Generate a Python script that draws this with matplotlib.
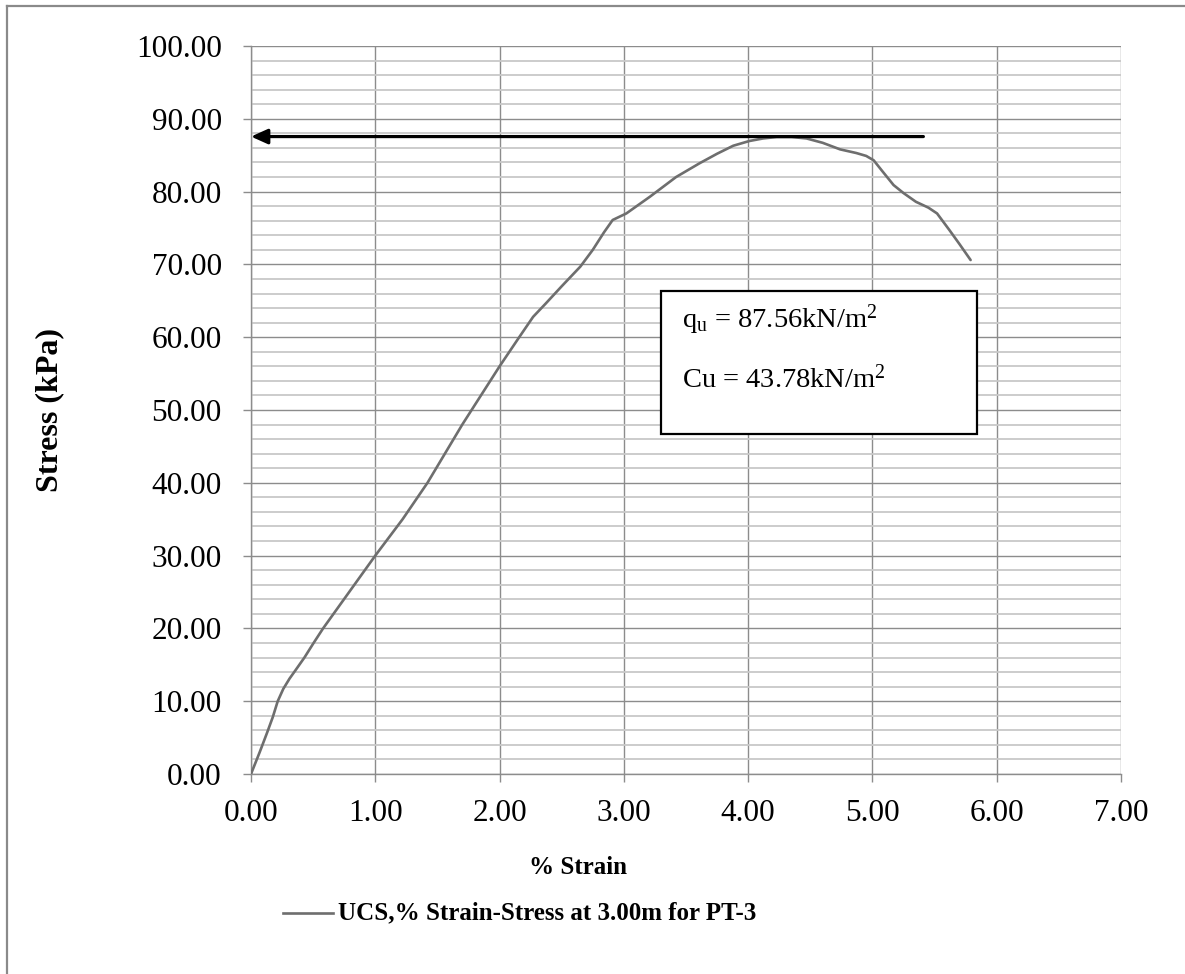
import matplotlib
matplotlib.use("Agg")
import matplotlib.pyplot as plt
from matplotlib.lines import Line2D
import numpy as np

# ---- data ----
strain = [0.00, 0.07, 0.13, 0.175, 0.215, 0.26, 0.31, 0.36, 0.43, 0.50, 0.58, 0.79, 1.00,
          1.22, 1.42, 1.70, 2.00, 2.15, 2.27, 2.37, 2.50, 2.65, 2.75, 2.84, 2.91,
          3.02, 3.21, 3.42, 3.61, 3.75, 3.88, 4.01, 4.12, 4.23, 4.35, 4.47, 4.60,
          4.74, 4.87, 4.95, 5.01, 5.08, 5.17, 5.25, 5.35, 5.45, 5.52, 5.62, 5.70, 5.79]
stress = [0.0, 3.0, 5.7, 7.8, 10.0, 11.7, 13.1, 14.3, 16.0, 17.9, 20.0, 25.0, 30.0,
          35.0, 40.0, 48.0, 56.0, 59.8, 62.8, 64.6, 67.0, 69.7, 72.0, 74.4, 76.1,
          77.0, 79.3, 82.0, 83.9, 85.2, 86.3, 86.95, 87.3, 87.5, 87.5, 87.3, 86.7,
          85.8, 85.3, 84.9, 84.3, 82.8, 80.9, 79.8, 78.6, 77.8, 77.0, 74.7, 72.8, 70.6]
qu = 87.56
cu = 43.78
arrow_x_start = 5.41
x_ticks = [0, 1, 2, 3, 4, 5, 6, 7]
y_ticks = [0, 10, 20, 30, 40, 50, 60, 70, 80, 90, 100]
series_label = "UCS,% Strain-Stress at 3.00m for PT-3"

plt.rcParams['font.family'] = ['Liberation Serif', 'DejaVu Serif']
plt.rcParams['mathtext.fontset'] = 'custom'
plt.rcParams['mathtext.rm'] = 'Liberation Serif'
plt.rcParams['mathtext.it'] = 'Liberation Serif:italic'
plt.rcParams['mathtext.bf'] = 'Liberation Serif:bold'

W, H = 1185, 974
fig = plt.figure(figsize=(W / 100, H / 100), dpi=100)
fig.patch.set_facecolor('white')

# axes placement in pixels
L, R, T, B = 251, 1121, 46, 774
ax = fig.add_axes([L / W, (H - B) / H, (R - L) / W, (B - T) / H])

grid_major = '#8c8c8c'
grid_minor = '#c8c8c8'

ax.set_xlim(0, 7)
ax.set_ylim(0, 100)
ax.set_xticks(x_ticks)
ax.set_yticks(y_ticks)
ax.set_yticks(np.arange(0, 101, 2), minor=True)
ax.set_xticklabels([f"{v:.2f}" for v in x_ticks])
ax.set_yticklabels([f"{v:.2f}" for v in y_ticks])
ax.tick_params(axis='both', which='major', labelsize=22.5, length=6, width=1,
               color=grid_major, direction='out')
ax.tick_params(axis='y', which='major', pad=15)
ax.tick_params(axis='x', which='major', pad=12)
ax.tick_params(axis='y', which='minor', length=0)
ax.grid(True, which='major', color=grid_major, linewidth=1.0)
ax.grid(True, which='minor', axis='y', color=grid_minor, linewidth=1.3)
for s in ['top', 'right']:
    ax.spines[s].set_visible(False)
for s in ['left', 'bottom']:
    ax.spines[s].set_color(grid_major)
    ax.spines[s].set_linewidth(1.0)
ax.set_axisbelow(True)

curve_color = '#6e6e6e'
ax.plot(strain, stress, color=curve_color, linewidth=1.9, solid_joinstyle='round',
        solid_capstyle='round', zorder=3)

# arrow
ax.annotate('', xy=(0, qu), xytext=(arrow_x_start, qu),
            arrowprops=dict(arrowstyle='-|>,head_length=1.0,head_width=0.45',
                            color='black', linewidth=2.3, shrinkA=0, shrinkB=0),
            zorder=4, annotation_clip=False)

# annotation box
bx0, by0, bx1, by1 = 661, 291, 977, 434
fig.patches.append(plt.Rectangle((bx0 / W, 1 - by1 / H), (bx1 - bx0) / W, (by1 - by0) / H,
                                 transform=fig.transFigure, facecolor='white',
                                 edgecolor='black', linewidth=1.6, zorder=5))
fig.text(682 / W, 1 - 328 / H, r"q$_{\mathrm{u}}$ = %.2fkN/m$^{2}$" % qu, fontsize=20.5,
         ha='left', va='baseline', zorder=6)
fig.text(682 / W, 1 - 388 / H, r"Cu = %.2fkN/m$^{2}$" % cu, fontsize=20.5,
         ha='left', va='baseline', zorder=6)

# axis labels
fig.text(50 / W, 1 - 410 / H, "Stress (kPa)", rotation=90, ha='center', va='center',
         fontsize=23, fontweight='bold')
fig.text(578 / W, 1 - 868 / H, "% Strain", ha='center', va='center',
         fontsize=18, fontweight='bold')

# legend
fig.add_artist(Line2D([283 / W, 333 / W], [1 - 913 / H, 1 - 913 / H],
                      transform=fig.transFigure, color=curve_color, linewidth=1.9))
fig.text(338 / W, 1 - 913 / H, series_label, ha='left', va='center',
         fontsize=18, fontweight='bold')

# outer border (top & left)
fig.add_artist(Line2D([7 / W, 1], [1 - 6 / H, 1 - 6 / H], transform=fig.transFigure,
                      color='#8a8a8a', linewidth=1.6))
fig.add_artist(Line2D([7 / W, 7 / W], [0, 1 - 6 / H], transform=fig.transFigure,
                      color='#8a8a8a', linewidth=1.6))

fig.savefig('out.png', dpi=100, facecolor='white')
